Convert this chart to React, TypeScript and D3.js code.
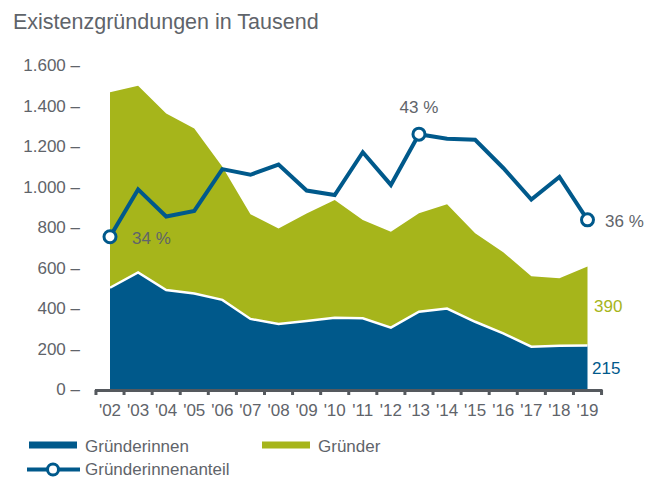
import React from "react";
import * as d3 from "d3";

const years = ["'02","'03","'04","'05","'06","'07","'08","'09","'10","'11","'12","'13","'14","'15","'16","'17","'18","'19"];
const women = [500, 576, 489, 472, 440, 346, 321, 336, 352, 349, 303, 382, 397, 332, 275, 209, 214, 215];
const men = [965, 922, 872, 815, 658, 517, 472, 531, 581, 486, 474, 486, 515, 437, 400, 348, 333, 390];
const shareWomen = [34.3, 38.5, 36.1, 36.6, 40.3, 39.8, 40.7, 38.4, 38.0, 41.8, 38.9, 43.4, 43.0, 42.9, 40.4, 37.6, 39.6, 35.8];
const yTicks = [0, 200, 400, 600, 800, 1000, 1200, 1400, 1600];
const labeledShare = [0, 11, 17];

const BLUE = "#00598b";
const GREEN = "#a6b51b";
const GRAY = "#5f646a";
const AXIS = "#55595e";
const FONT = "Liberation Sans, Arial, sans-serif";

const fmt = (v: number) => d3.format(",")(v).replace(/,/g, ".");

export default function App() {
  const W = 661, H = 477;
  const x = d3.scalePoint<string>().domain(years).range([110, 587.5]);
  const step = x.step();
  const y = d3.scaleLinear().domain([0, 1600]).range([389, 65]);
  const yPct = d3.scaleLinear().domain([20.8, 49.8]).range([389, 62]);

  const rows = years.map((yr, i) => ({ yr, women: women[i], men: men[i] }));
  const stack = d3.stack<any>().keys(["women", "men"])(rows);

  const area = d3.area<any>()
    .x((d: any) => x(d.data.yr) as number)
    .y0((d: any) => y(d[0]))
    .y1((d: any) => y(d[1]));
  const topLine = d3.line<any>()
    .x((d: any) => x(d.data.yr) as number)
    .y((d: any) => y(d[1]));
  const shareLine = d3.line<number>()
    .x((_, i) => x(years[i]) as number)
    .y((d) => yPct(d));

  const axisStart = (x(years[0]) as number) - step / 2;
  const axisEnd = (x(years[years.length - 1]) as number) + step / 2;
  const boundaries = d3.range(years.length + 1).map((k) => axisStart + k * step);

  return (
    <svg width={W} height={H} style={{ position: "absolute", left: 0, top: 0 }} fontFamily={FONT}>
      <text x={13} y={29} fontSize={21.5} fill={GRAY}>Existenzgründungen in Tausend</text>

      {yTicks.map((t) => (
        <text key={t} x={80} y={y(t) + 6} fontSize={17} fill={GRAY} textAnchor="end">
          {fmt(t) + " \u2013"}
        </text>
      ))}

      <path d={area(stack[1]) || ""} fill={GREEN} />
      <path d={area(stack[0]) || ""} fill={BLUE} />
      <path d={topLine(stack[0]) || ""} fill="none" stroke="#fff" strokeWidth={2.5} />

      <line x1={axisStart - 1} x2={axisEnd + 1} y1={390.5} y2={390.5} stroke={AXIS} strokeWidth={3} />
      {boundaries.map((b, k) => (
        <line key={k} x1={b} x2={b} y1={390} y2={395} stroke={AXIS} strokeWidth={3} />
      ))}
      {years.map((yr) => (
        <text key={yr} x={x(yr) as number} y={416} fontSize={17} fill={GRAY} textAnchor="middle">{yr}</text>
      ))}

      <path d={shareLine(shareWomen) || ""} fill="none" stroke={BLUE} strokeWidth={4} strokeLinejoin="miter" />
      {labeledShare.map((i) => (
        <circle key={i} cx={x(years[i]) as number} cy={yPct(shareWomen[i])} r={6} fill="#fff" stroke={BLUE} strokeWidth={3} />
      ))}
      <text x={132} y={244} fontSize={17} fill={GRAY}>{Math.round(shareWomen[0]) + " %"}</text>
      <text x={x(years[11]) as number} y={113} fontSize={17} fill={GRAY} textAnchor="middle">{Math.round(shareWomen[11]) + " %"}</text>
      <text x={605} y={227} fontSize={17} fill={GRAY}>{Math.round(shareWomen[17]) + " %"}</text>

      <text x={594} y={312} fontSize={17} fill={GREEN}>{men[men.length - 1]}</text>
      <text x={592} y={374} fontSize={17} fill={BLUE}>{women[women.length - 1]}</text>

      <rect x={29} y={441.5} width={48} height={7} fill={BLUE} />
      <text x={85} y={452} fontSize={17} fill={GRAY}>Gründerinnen</text>
      <rect x={262} y={441.5} width={48} height={7} fill={GREEN} />
      <text x={318} y={452} fontSize={17} fill={GRAY}>Gründer</text>
      <line x1={27} x2={80} y1={469.5} y2={469.5} stroke={BLUE} strokeWidth={4} />
      <circle cx={53} cy={469.5} r={5.5} fill="#fff" stroke={BLUE} strokeWidth={3} />
      <text x={85} y={474.5} fontSize={17} fill={GRAY}>Gründerinnenanteil</text>
    </svg>
  );
}
